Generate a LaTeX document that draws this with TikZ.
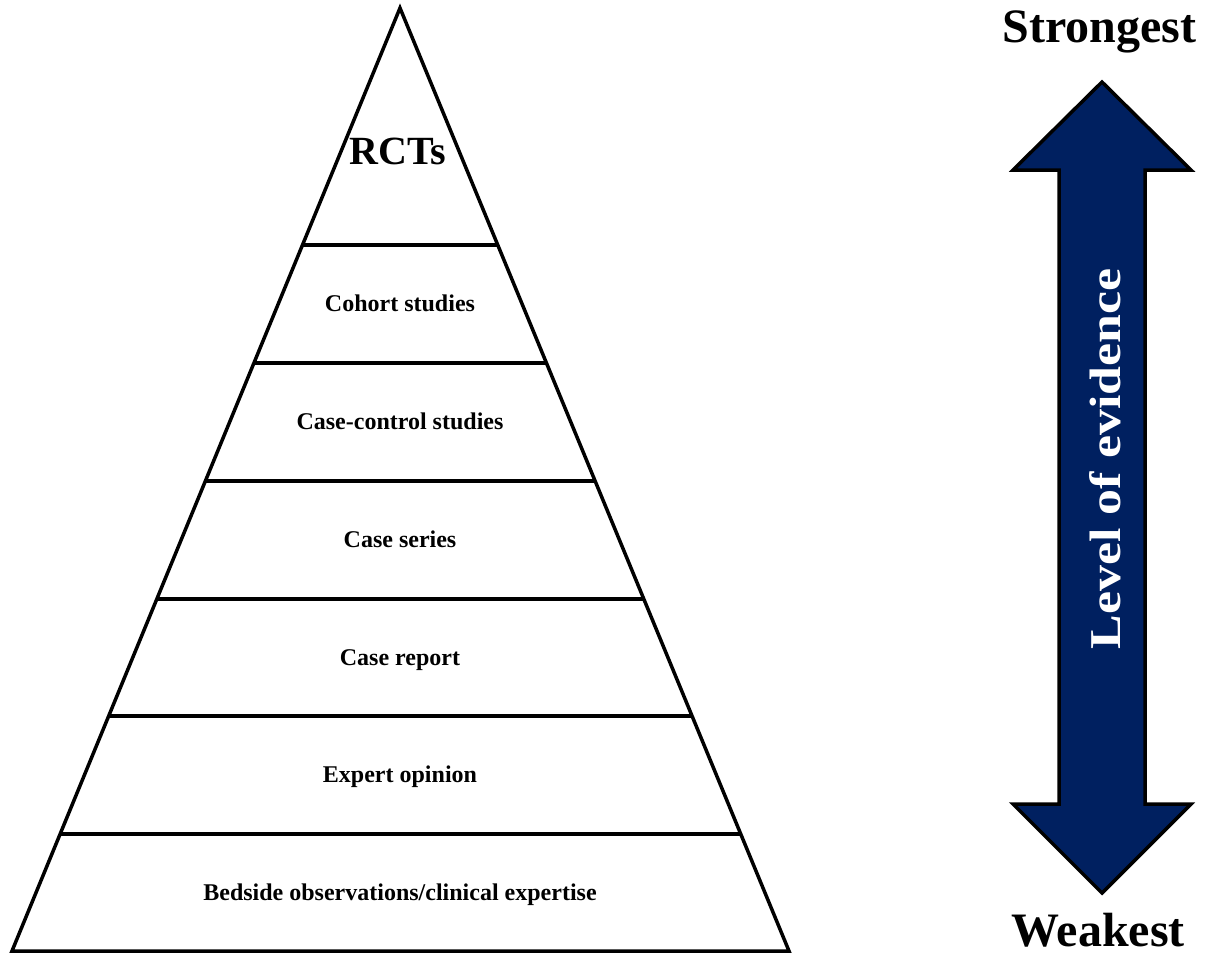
\documentclass[tikz,border=0pt]{standalone}
\usepackage{fontspec}
\setmainfont{Liberation Serif}
\definecolor{evidenceblue}{RGB}{0,32,96}
\begin{document}
\begin{tikzpicture}[x=1pt,y=-1pt,
  outline/.style={line width=3.5pt,line join=miter},
  tierlabel/.style={anchor=base,font=\fontsize{24}{27}\selectfont\bfseries},
  endlabel/.style={anchor=base,font=\fontsize{48}{52}\selectfont\bfseries}]
\useasboundingbox (0,0) rectangle (1205,954);
% pyramid outline
\coordinate (apex) at (400,8);
\coordinate (bl) at (12,951);
\coordinate (br) at (789,951);
\draw[outline] (apex) -- (bl) -- (br) -- cycle;
% tier dividers, end points on the slanted sides
\foreach \yy/\nm in {245/a,363/b,481/c,599/d,716/e,834/f}{
  \pgfmathsetmacro{\dl}{0.41145*(\yy-8)}
  \pgfmathsetmacro{\dr}{0.41251*(\yy-8)}
  \coordinate (l\nm) at ({400-\dl},\yy);
  \coordinate (r\nm) at ({400+\dr},\yy);
  \draw[outline] (l\nm) -- (r\nm);
}
% tier labels
\node[anchor=base,font=\fontsize{40}{44}\selectfont\bfseries] (rct) at (398,164) {RCTs};
\node[tierlabel] (coh) at (400,311.5) {Cohort studies};
\node[tierlabel] (cc) at (400,429.5) {Case-control studies};
\node[tierlabel] (cs) at (400,547.5) {Case series};
\node[tierlabel] (cr) at (400,665) {Case report};
\node[tierlabel] (eo) at (400,782.5) {Expert opinion};
\node[tierlabel] (bo) at (400,900) {Bedside observations/clinical expertise};
% double-headed evidence arrow
\draw[outline,fill=evidenceblue]
  (1102,82) -- (1191,170) -- (1145,170) -- (1145,804) -- (1191,804)
  -- (1102,893) -- (1013,804) -- (1059,804) -- (1059,170) -- (1013,170) -- cycle;
\node[anchor=base,rotate=90,text=white,font=\fontsize{44}{48}\selectfont\bfseries] (lev) at (1120,459)
  {\scalebox{1.18}[1]{Level of evidence}};
\node[endlabel] (strong) at (1099.5,42) {Strongest};
\node[endlabel] (weak) at (1098,946) {Weakest};
\end{tikzpicture}
\end{document}
